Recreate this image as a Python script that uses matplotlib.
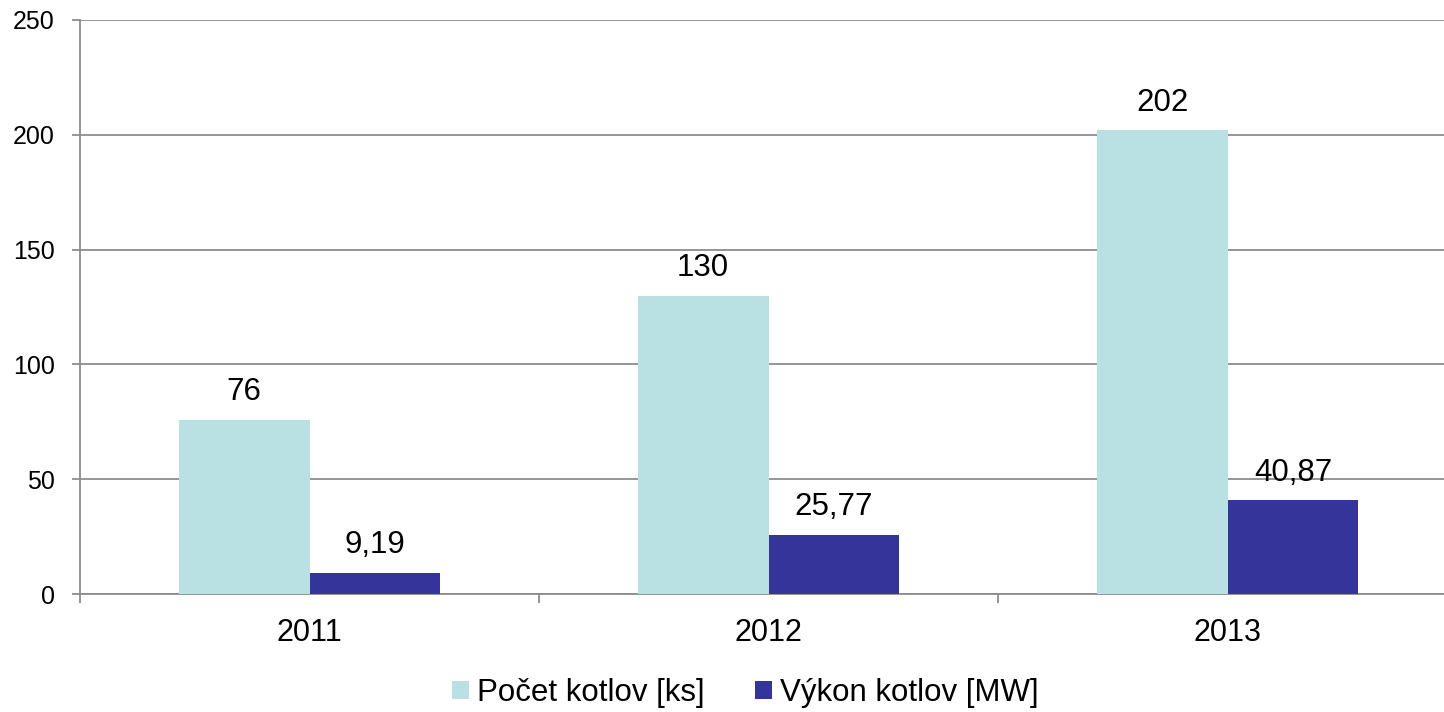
import matplotlib.pyplot as plt
import numpy as np

plt.rcParams['font.family'] = ['Liberation Sans', 'DejaVu Sans']

# Data
roky = ['2011', '2012', '2013']
pocet_kotlov = [76, 130, 202]
vykon_kotlov = [9.19, 25.77, 40.87]
nazvy = ['Počet kotlov [ks]', 'Výkon kotlov [MW]']

farba_svetla = '#B9E0E3'
farba_tmava = '#35349A'
siva = '#8C8C8C'

fig = plt.figure(figsize=(14.44, 7.12), dpi=100)
ax = fig.add_axes([80 / 1444, 118 / 712, 1377 / 1444, 574 / 712])

x = np.arange(len(roky))
w = 0.285

b1 = ax.bar(x - w / 2, pocet_kotlov, w, color=farba_svetla, label=nazvy[0], zorder=3)
b2 = ax.bar(x + w / 2, vykon_kotlov, w, color=farba_tmava, label=nazvy[1], zorder=3)

# popisky hodnot
for bars, vals in ((b1, pocet_kotlov), (b2, vykon_kotlov)):
    for r, v in zip(bars, vals):
        if isinstance(v, float):
            txt = f'{v:.2f}'.replace('.', ',')
        else:
            txt = str(v)
        ax.annotate(txt, (r.get_x() + r.get_width() / 2, r.get_height()),
                    xytext=(0, 9), textcoords='offset points',
                    ha='center', va='bottom', fontsize=22.5)

ax.set_xlim(-0.5, 2.5)
ax.set_ylim(0, 250)
ax.set_yticks(range(0, 251, 50))
ax.yaxis.grid(True, color=siva, linewidth=1.3, zorder=0)

ax.set_xticks(x)
ax.set_xticklabels(roky)
ax.set_xticks([-0.5, 0.5, 1.5], minor=True)
ax.tick_params(axis='x', which='major', length=0, pad=17, labelsize=22)
ax.tick_params(axis='x', which='minor', length=6.5, width=1.3, color=siva, direction='out')
ax.tick_params(axis='y', length=6, width=1.3, color=siva, labelsize=18, pad=12)

for s in ['top', 'right']:
    ax.spines[s].set_visible(False)
for s in ['left', 'bottom']:
    ax.spines[s].set_color(siva)
    ax.spines[s].set_linewidth(1.3)

fig.legend(loc='center', bbox_to_anchor=(745 / 1444, 1 - 693 / 712), ncol=2,
           frameon=False, fontsize=22.5, handlelength=0.55, handleheight=0.55,
           handletextpad=0.25, columnspacing=1.6)

plt.savefig('out.png', dpi=100)
